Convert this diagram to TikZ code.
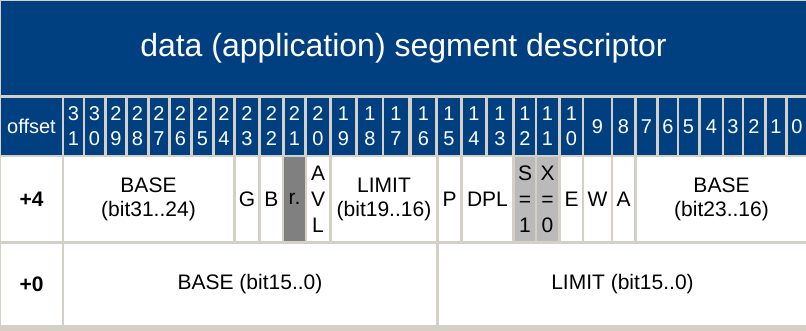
\documentclass[tikz,border=0pt]{standalone}
\usepackage{fontspec}
\setmainfont{Liberation Sans}

\definecolor{descblue}{RGB}{0,64,128}
\definecolor{framegrey}{RGB}{212,208,200}
\definecolor{resgrey}{RGB}{128,128,128}
\definecolor{fixgrey}{RGB}{186,186,186}

\tikzset{
	cell/.style={anchor=north west, inner sep=0pt, outer sep=0pt, align=center},
	headcell/.style={cell, fill=descblue, text=white, minimum height=57pt,
		font=\fontsize{20}{25}\selectfont},
	rowfour/.style={cell, fill=white, minimum height=84pt,
		font=\fontsize{21}{24}\selectfont},
	rowzero/.style={cell, fill=white, minimum height=81pt,
		font=\fontsize{21}{24}\selectfont},
	tall/.style={font=\fontsize{21}{26}\selectfont}
}

\begin{document}
\begin{tikzpicture}[x=1pt, y=-1pt]
		% Frame
		\fill[framegrey] (0,0) rectangle (806,331);
		\useasboundingbox (0,0) rectangle (806,331);
		
		% Title
		\node[cell, fill=descblue, text=white, minimum width=805pt, minimum height=94pt,
			font=\fontsize{32}{38}\selectfont] (title) at (1,1) {data (application) segment descriptor};
		
		% Bit numbers
		\node[headcell, minimum width=61pt] (hoff) at (1,98) {offset};
		\foreach \b/\l/\r/\txt in {31/64/83/{3\\1}, 30/85/104/{3\\0}, 29/107/125/{2\\9},
			28/128/147/{2\\8}, 27/150/168/{2\\7}, 26/171/190/{2\\6}, 25/193/212/{2\\5},
			24/215/233/{2\\4}, 23/236/258/{2\\3}, 22/261/282/{2\\2}, 21/285/304/{2\\1},
			20/307/329/{2\\0}, 19/332/355/{1\\9}, 18/358/382/{1\\8}, 17/384/408/{1\\7},
			16/412/435/{1\\6}, 15/438/460/{1\\5}, 14/463/485/{1\\4}, 13/488/512/{1\\3},
			12/515/535/{1\\2}, 11/537/558/{1\\1}, 10/561/582/{1\\0}, 9/584/611/9,
			8/613/634/8, 7/637/656/7, 6/659/677/6, 5/679/698/5, 4/701/722/4,
			3/724/742/3, 2/744/764/2, 1/767/785/1, 0/788/806/0} {
			\node[headcell, minimum width={\r-\l}] (h\b) at (\l,98) {\txt};
		}
		
		% Offset +4
		\node[rowfour, minimum width=61pt, font=\fontsize{21}{24}\selectfont\bfseries] (off4) at (1,157) {+4};
		\node[rowfour, minimum width=169pt] (basehi) at (64,157) {BASE\\(bit31..24)};
		\node[rowfour, minimum width=22pt] (gran) at (236,157) {G};
		\node[rowfour, minimum width=21pt] (big) at (261,157) {B};
		\node[rowfour, minimum width=21pt, fill=resgrey] (res) at (284,157) {r.};
		\node[rowfour, tall, minimum width=22pt] (avl) at (307,157) {A\\V\\L};
		\node[rowfour, minimum width=104pt] (limhi) at (332,157) {LIMIT\\(bit19..16)};
		\node[rowfour, minimum width=21pt] (pres) at (439,157) {P};
		\node[rowfour, minimum width=49pt] (dpl) at (463,157) {DPL};
		\node[rowfour, tall, minimum width=20pt, fill=fixgrey] (sflag) at (515,157) {S\\=\\1};
		\node[rowfour, tall, minimum width=21pt, fill=fixgrey] (xflag) at (537,157) {X\\=\\0};
		\node[rowfour, minimum width=21pt] (expd) at (561,157) {E};
		\node[rowfour, minimum width=27pt] (wrt) at (584,157) {W};
		\node[rowfour, minimum width=21pt] (acc) at (613,157) {A};
		\node[rowfour, minimum width=169pt] (basemid) at (637,157) {BASE\\(bit23..16)};
		
		% Offset +0
		\node[rowzero, minimum width=61pt, font=\fontsize{21}{24}\selectfont\bfseries] (off0) at (1,244) {+0};
		\node[rowzero, minimum width=372pt] (baselo) at (64,244) {BASE (bit15..0)};
		\node[rowzero, minimum width=367pt] (limlo) at (439,244) {LIMIT (bit15..0)};
		
	\end{tikzpicture}
\end{document}
